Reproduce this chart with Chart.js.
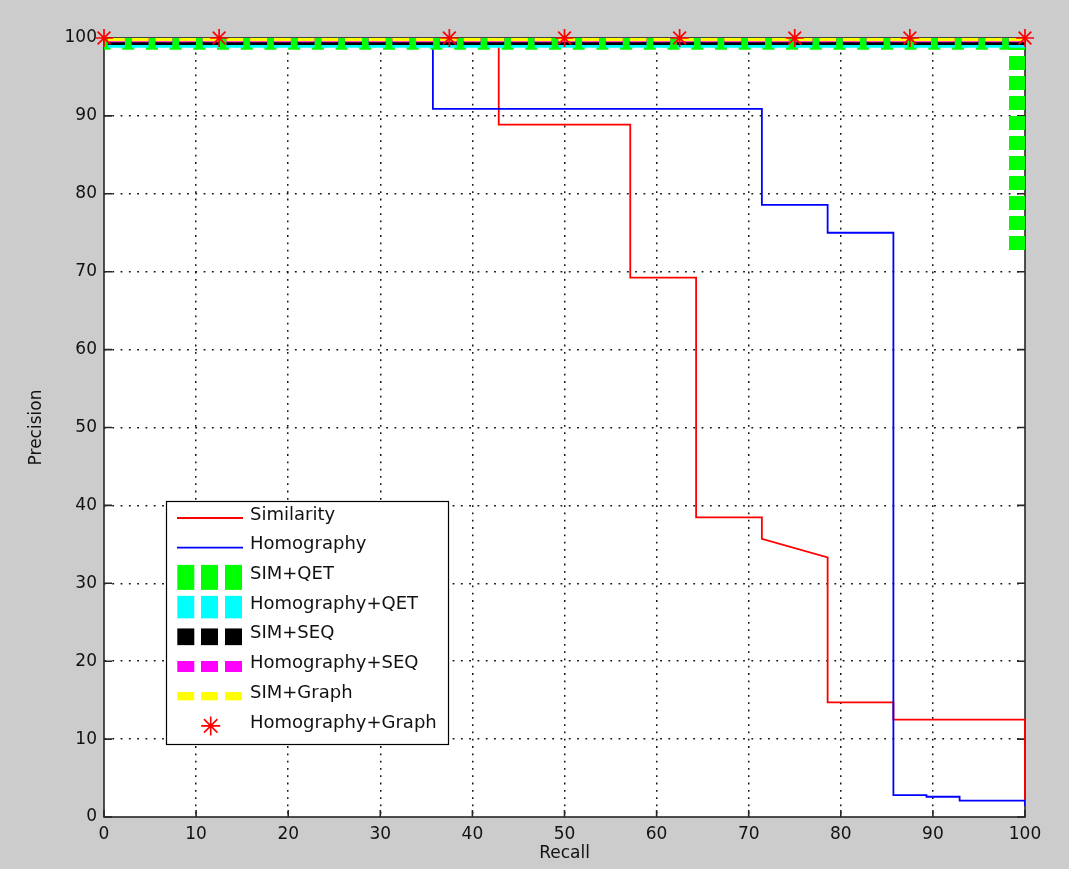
<!DOCTYPE html>
<html>
<head>
<meta charset="utf-8">
<script src="https://cdn.jsdelivr.net/npm/chart.js@4.4.0/dist/chart.umd.min.js"></script>
<style>
  html, body { margin: 0; padding: 0; background: #cccccc; }
  canvas { display: block; }
</style>
</head>
<body>
<canvas id="pr-chart" width="1069" height="869"></canvas>
<script>
// precision / recall curves

const xTickValues = [0, 10, 20, 30, 40, 50, 60, 70, 80, 90, 100];
const yTickValues = [0, 10, 20, 30, 40, 50, 60, 70, 80, 90, 100];

const seriesNames = ['Similarity', 'Homography', 'SIM+QET', 'Homography+QET',
  'SIM+SEQ', 'Homography+SEQ', 'SIM+Graph', 'Homography+Graph'];

const similarityRecall    = [0, 42.86, 42.86, 57.14, 57.14, 64.29, 64.29, 71.43, 71.43, 78.57, 78.57, 85.71, 85.71, 100, 100];
const similarityPrecision = [100, 100, 88.89, 88.89, 69.23, 69.23, 38.46, 38.46, 35.71, 33.33, 14.71, 14.71, 12.5, 12.5, 2.1];

const homographyRecall    = [0, 35.71, 35.71, 71.43, 71.43, 78.57, 78.57, 85.71, 85.71, 89.3, 89.3, 92.9, 92.9, 100, 100];
const homographyPrecision = [100, 100, 90.91, 90.91, 78.57, 78.57, 75, 75, 2.8, 2.8, 2.6, 2.6, 2.1, 2.1, 1.4];

const simQetRecall    = [0, 100, 100];
const simQetPrecision = [100, 100, 72.7];

const homQetRecall    = [0, 100];
const homQetPrecision = [100, 100];
const simSeqRecall    = [0, 100];
const simSeqPrecision = [100, 100];
const homSeqRecall    = [0, 100];
const homSeqPrecision = [100, 100];
const simGraphRecall    = [0, 100];
const simGraphPrecision = [100, 100];

const homGraphRecall    = [0, 12.5, 37.5, 50, 62.5, 75, 87.5, 100];
const homGraphPrecision = [100, 100, 100, 100, 100, 100, 100, 100];

function toPoints(xs, ys) {
    return xs.map((x, i) => ({ x: x, y: ys[i] }));
}

const FONT = 'DejaVu Sans';
const topDash = [17.01, 6.7];   // dash for the stacked lines on the top edge
const topDashOffset = 19.86;

function stackLine(label, points, color, width, dash, dashOffset, order) {
    return {
        label: label,
        data: points,
        showLine: true,
        borderColor: color,
        borderWidth: width,
        borderDash: dash,
        borderDashOffset: dashOffset,
        pointRadius: 0,
        clip: 0,
        order: order
    };
}

const simQetPoints = toPoints(simQetRecall, simQetPrecision);

// white plot area, box and the inward tick marks
const axesBox = {
    id: 'axesBox',
    beforeDraw(chart) {
        const { ctx, chartArea: a } = chart;
        ctx.save();
        ctx.fillStyle = '#ffffff';
        ctx.fillRect(a.left, a.top, a.right - a.left, a.bottom - a.top);
        ctx.restore();
    },
    beforeDatasetsDraw(chart) {
        const { ctx, chartArea: a, scales } = chart;
        ctx.save();
        ctx.strokeStyle = '#262626';
        ctx.lineWidth = 1.6;
        ctx.strokeRect(a.left, a.top, a.right - a.left, a.bottom - a.top);
        ctx.beginPath();
        xTickValues.forEach(v => {
            const px = scales.x.getPixelForValue(v);
            ctx.moveTo(px, a.bottom); ctx.lineTo(px, a.bottom - 7);
            ctx.moveTo(px, a.top); ctx.lineTo(px, a.top + 7);
        });
        yTickValues.forEach(v => {
            const py = scales.y.getPixelForValue(v);
            ctx.moveTo(a.left, py); ctx.lineTo(a.left + 8, py);
            ctx.moveTo(a.right, py); ctx.lineTo(a.right - 8, py);
        });
        ctx.stroke();
        ctx.restore();
    }
};

// boxed legend in the lower left of the plot
const boxLegend = {
    id: 'boxLegend',
    afterDraw(chart) {
        const ctx = chart.ctx;
        const swatches = [
            { kind: 'line', color: '#ff0000', h: 1.8 },
            { kind: 'line', color: '#0000ff', h: 1.8 },
            { kind: 'dash', color: '#00ff00', h: 25 },
            { kind: 'dash', color: '#00ffff', h: 22.5 },
            { kind: 'dash', color: '#000000', h: 16.7 },
            { kind: 'dash', color: '#ff00ff', h: 11 },
            { kind: 'dash', color: '#ffff00', h: 8.3 },
            { kind: 'star', color: '#ff0000', h: 0 }
        ];
        ctx.save();
        ctx.fillStyle = '#ffffff';
        ctx.fillRect(166.5, 501.5, 282, 243);
        ctx.strokeStyle = '#000000';
        ctx.lineWidth = 1.2;
        ctx.strokeRect(166.5, 501.5, 282, 243);

        ctx.font = '18px "' + FONT + '"';
        ctx.textBaseline = 'middle';
        ctx.textAlign = 'left';
        seriesNames.forEach((name, i) => {
            const ty = 515 + i * 29.7;
            const sy = ty + 3;
            const s = swatches[i];
            if (s.kind === 'line') {
                ctx.strokeStyle = s.color;
                ctx.lineWidth = s.h;
                ctx.beginPath();
                ctx.moveTo(177, sy); ctx.lineTo(243, sy);
                ctx.stroke();
            } else if (s.kind === 'dash') {
                ctx.fillStyle = s.color;
                [177.3, 201, 225].forEach(x0 => ctx.fillRect(x0, sy - s.h / 2, 17, s.h));
            } else {
                ctx.strokeStyle = s.color;
                ctx.lineWidth = 1.6;
                const cx = 210.7, r = 9.5;
                ctx.beginPath();
                for (let k = 0; k < 4; k++) {
                    const ang = k * Math.PI / 4;
                    ctx.moveTo(cx - r * Math.cos(ang), sy - r * Math.sin(ang));
                    ctx.lineTo(cx + r * Math.cos(ang), sy + r * Math.sin(ang));
                }
                ctx.stroke();
                ctx.fillStyle = s.color;
                ctx.beginPath();
                ctx.arc(cx, sy, 2, 0, Math.PI * 2);
                ctx.fill();
            }
            ctx.fillStyle = '#111111';
            ctx.fillText(name, 250, ty);
        });
        ctx.restore();
    }
};

const edgeColor = (v) => (v === 0 || v === 100) ? 'rgba(0,0,0,0)' : '#141414';

const ctx = document.getElementById('pr-chart').getContext('2d');

const prChart = new Chart(ctx, {
    type: 'scatter',
    data: {
        datasets: [
            {
                label: seriesNames[7],
                data: toPoints(homGraphRecall, homGraphPrecision),
                showLine: false,
                pointStyle: 'star',
                pointRadius: 9,
                pointBorderColor: '#ff0000',
                pointBackgroundColor: '#ff0000',
                pointBorderWidth: 1.7,
                clip: false,
                order: 0
            },
            stackLine(seriesNames[6], toPoints(simGraphRecall, simGraphPrecision), '#ffff00', 6.5, topDash, topDashOffset, 1),
            stackLine(seriesNames[5], toPoints(homSeqRecall, homSeqPrecision), '#ff00ff', 8.5, topDash, topDashOffset, 2),
            stackLine(seriesNames[4], toPoints(simSeqRecall, simSeqPrecision), '#000000', 14, topDash, topDashOffset, 3),
            stackLine(seriesNames[3], toPoints(homQetRecall, homQetPrecision), '#00ffff', 19.5, topDash, topDashOffset, 4),
            // SIM+QET: top edge run and the drop along the right edge
            stackLine(seriesNames[2], simQetPoints.slice(0, 2), '#00ff00', 23.5, [12, 11.71], 5.5, 5),
            stackLine(seriesNames[2], simQetPoints.slice(1), '#00ff00', 32, [14, 6], 2, 5),
            {
                label: seriesNames[1],
                data: toPoints(homographyRecall, homographyPrecision),
                showLine: true,
                borderColor: '#0000ff',
                borderWidth: 1.8,
                pointRadius: 0,
                order: 6
            },
            {
                label: seriesNames[0],
                data: toPoints(similarityRecall, similarityPrecision),
                showLine: true,
                borderColor: '#ff0000',
                borderWidth: 1.8,
                pointRadius: 0,
                order: 7
            }
        ]
    },
    options: {
        responsive: false,
        animation: false,
        layout: { padding: { top: 38, right: 44, left: 0, bottom: 0 } },
        plugins: {
            legend: { display: false },
            tooltip: { enabled: false }
        },
        scales: {
            x: {
                type: 'linear',
                min: 0,
                max: 100,
                afterBuildTicks: s => { s.ticks = xTickValues.map(v => ({ value: v })); },
                afterFit: s => { s.height = 52; },
                ticks: {
                    padding: 7,
                    color: '#111111',
                    font: { family: FONT, size: 17 },
                    maxRotation: 0,
                    autoSkip: false
                },
                grid: {
                    drawTicks: false,
                    lineWidth: 1.5,
                    color: c => edgeColor(c.tick && c.tick.value)
                },
                border: { display: false, dash: [1.8, 5.5] },
                title: {
                    display: true,
                    text: 'Recall',
                    color: '#111111',
                    font: { family: FONT, size: 17 },
                    padding: { top: 0, bottom: 5 }
                }
            },
            y: {
                type: 'linear',
                min: 0,
                max: 100,
                afterBuildTicks: s => { s.ticks = yTickValues.map(v => ({ value: v })); },
                afterFit: s => { s.width = 104; },
                ticks: {
                    padding: 7,
                    color: '#111111',
                    font: { family: FONT, size: 17 },
                    autoSkip: false
                },
                grid: {
                    drawTicks: false,
                    lineWidth: 1.5,
                    color: c => edgeColor(c.tick && c.tick.value)
                },
                border: { display: false, dash: [1.8, 6.5] },
                title: {
                    display: true,
                    text: 'Precision',
                    color: '#111111',
                    font: { family: FONT, size: 17 },
                    padding: { top: 26, bottom: 0 }
                }
            }
        }
    },
    plugins: [axesBox, boxLegend]
});
</script>
</body>
</html>
